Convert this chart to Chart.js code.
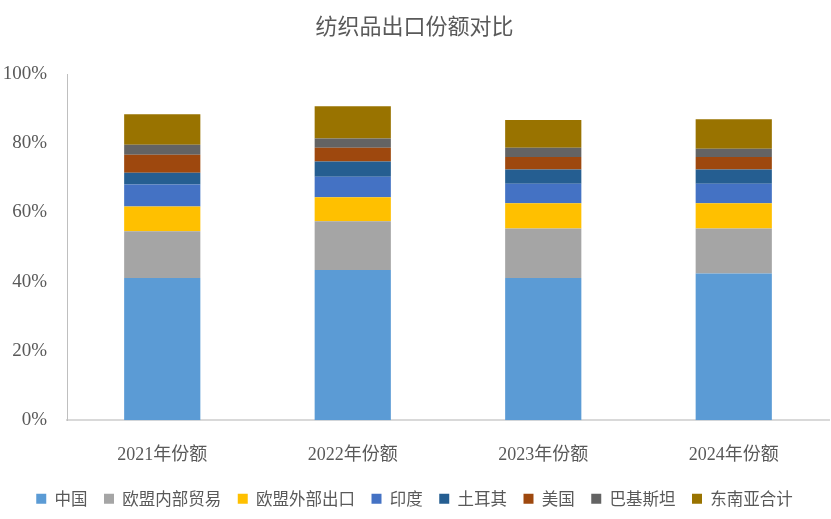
<!DOCTYPE html>
<html><head><meta charset="utf-8">
<script src="https://cdn.jsdelivr.net/npm/chart.js@4"></script>
<style>html,body{margin:0;padding:0;background:#fff}#w{width:831px;height:519px}</style>
</head><body><div id="w"><canvas id="c"></canvas></div>
<script>
const categories = ['2021年份额','2022年份额','2023年份额','2024年份额'];
const china     = [41.1, 43.4, 41.1, 42.4];
const euInner   = [13.5, 14.1, 14.3, 13.0];
const euOuter   = [7.1, 6.9, 7.3, 7.3];
const india     = [6.4, 5.9, 5.6, 5.6];
const turkey    = [3.4, 4.4, 4.1, 4.1];
const usa       = [5.2, 4.0, 3.6, 3.6];
const pakistan  = [2.9, 2.7, 2.7, 2.4];
const seAsia    = [8.8, 9.3, 8.0, 8.5];
const seriesNames = ['中国','欧盟内部贸易','欧盟外部出口','印度','土耳其','美国','巴基斯坦','东南亚合计'];
const seriesData = [china, euInner, euOuter, india, turkey, usa, pakistan, seAsia];
const colors = ['#5B9BD5','#A5A5A5','#FFC000','#4472C4','#255E91','#9E480E','#636363','#997300'];
const yTicks = [0,20,40,60,80,100];

const serif = "'Liberation Serif','DejaVu Serif','Noto Sans CJK SC', serif";
new Chart(document.getElementById('c'), {
  type: 'bar',
  data: {
    labels: categories,
    datasets: seriesData.map((d,i)=>({
      label: seriesNames[i], data: d, backgroundColor: colors[i],
      borderWidth: 0, barPercentage: 0.4, categoryPercentage: 1
    }))
  },
  options: {
    responsive: true, maintainAspectRatio: false, animation: false,
    layout: {padding: {left: 0, right: 2, top: 8, bottom: 2}},
    plugins: {
      title: {display: true, text: '纺织品出口份额对比', color: '#595959',
        font: {family: "'Noto Sans CJK SC', sans-serif", size: 22, weight: 'normal'},
        padding: {top: 4, bottom: 35.6}},
      legend: {position: 'bottom', labels: {color: '#595959', boxWidth: 10, boxHeight: 10,
        padding: 16.5, font: {family: "'Noto Sans CJK SC', sans-serif", size: 16.5}}},
      tooltip: {enabled: false}
    },
    scales: {
      x: {stacked: true, grid: {display: false, drawTicks: false},
        border: {color: '#D9D9D9', width: 2},
        afterFit: s => { s.height = 53.75; },
        ticks: {color: '#595959', padding: 24, font: {family: serif, size: 18}}},
      y: {stacked: true, min: 0, max: 100,
        afterBuildTicks: s => { s.ticks = yTicks.map(v=>({value:v})); },
        afterFit: s => { s.width = 67; },
        grid: {display: false, drawTicks: false},
        border: {color: '#BFBFBF', width: 1},
        ticks: {color: '#595959', padding: 20, font: {family: serif, size: 19},
          callback: v => v + '%'}}
    }
  }
});
</script></body></html>
